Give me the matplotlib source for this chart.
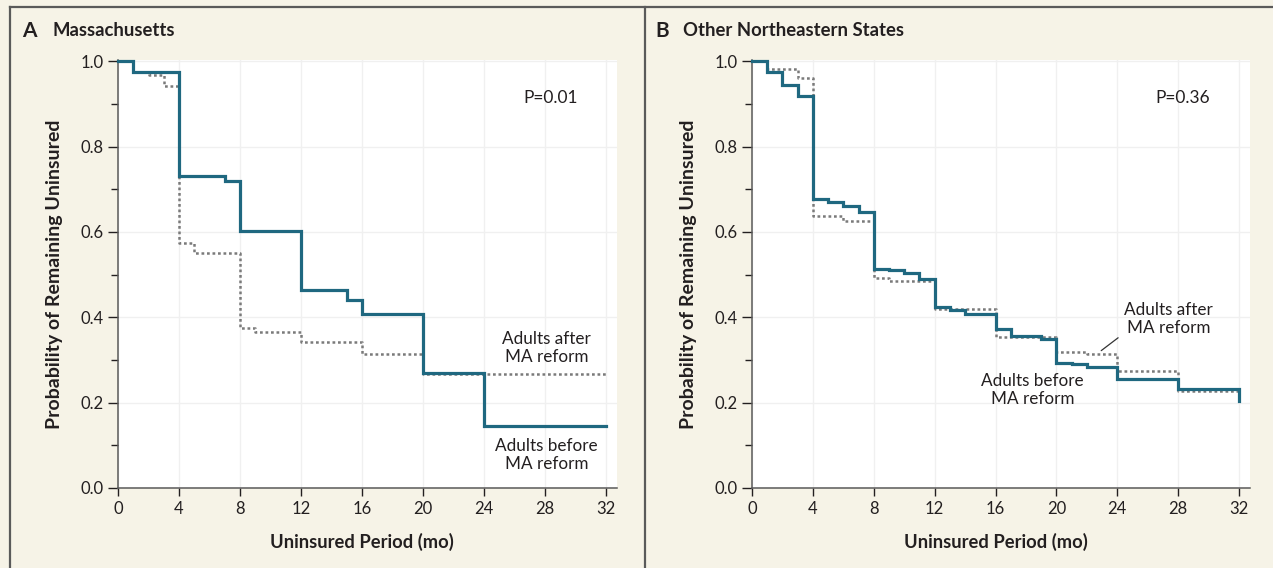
import matplotlib
matplotlib.use("Agg")
import matplotlib.pyplot as plt
from matplotlib.lines import Line2D
from matplotlib.ticker import MultipleLocator

plt.rcParams['font.family'] = ['Lato', 'DejaVu Sans']

# ---------------- data ----------------
panel_titles = ["Massachusetts", "Other Northeastern States"]
panel_letters = ["A", "B"]
p_values = ["P=0.01", "P=0.36"]

# Panel A (Massachusetts)
a_before_t = [0, 1, 4, 7, 8, 12, 15, 16, 20, 24, 32]
a_before_s = [1.0, 0.976, 0.731, 0.720, 0.603, 0.464, 0.440, 0.408, 0.269, 0.145, 0.145]
a_after_t = [0, 1, 2, 3, 4, 5, 8, 9, 12, 16, 20, 32]
a_after_s = [1.0, 0.976, 0.967, 0.942, 0.575, 0.550, 0.375, 0.365, 0.341, 0.314, 0.268, 0.268]

# Panel B (Other Northeastern States)
b_before_t = [0, 1, 2, 3, 4, 5, 6, 7, 8, 9, 10, 11, 12, 13, 14, 16, 17, 19, 20, 21, 22, 24, 28, 32]
b_before_s = [1.0, 0.976, 0.945, 0.919, 0.678, 0.670, 0.661, 0.646, 0.514, 0.511, 0.505, 0.489,
              0.423, 0.417, 0.407, 0.372, 0.357, 0.349, 0.294, 0.290, 0.283, 0.255, 0.231, 0.204]
b_after_t = [0, 1, 3, 4, 6, 8, 9, 12, 16, 20, 22, 24, 28, 32]
b_after_s = [1.0, 0.982, 0.961, 0.637, 0.626, 0.493, 0.486, 0.420, 0.353, 0.318, 0.314, 0.275, 0.228, 0.210]

x_ticks = [0, 4, 8, 12, 16, 20, 24, 28, 32]
y_ticks = [0.0, 0.2, 0.4, 0.6, 0.8, 1.0]
x_label = "Uninsured Period (mo)"
y_label = "Probability of Remaining Uninsured"

# ---------------- style ----------------
BG = '#f6f3e7'
TEAL = '#1f6880'
GRAY = '#7a7a7a'
TXT = '#231f20'
FRAME = '#5a5a5a'

fig = plt.figure(figsize=(12.73, 5.68), dpi=100, facecolor=BG)
W, H = 1273, 568

def px_axes(x0, x1, ytop, ybot):
    return [x0 / W, 1 - ybot / H, (x1 - x0) / W, (ybot - ytop) / H]

axes = [fig.add_axes(px_axes(118, 617, 60, 488)),
        fig.add_axes(px_axes(752, 1250, 60, 488))]

data = [(a_before_t, a_before_s, a_after_t, a_after_s),
        (b_before_t, b_before_s, b_after_t, b_after_s)]

for ax, (bt, bs, at, as_) in zip(axes, data):
    ax.set_facecolor('white')
    ax.set_xlim(0, 32.72)
    ax.set_ylim(0, 1.003)
    ax.set_xticks(x_ticks)
    ax.set_yticks(y_ticks)
    ax.set_yticklabels([f"{v:.1f}" for v in y_ticks])
    ax.yaxis.set_minor_locator(MultipleLocator(0.1))
    ax.grid(True, which='major', color='#f0f0f0', lw=1.0)
    ax.set_axisbelow(True)
    for s in ['top', 'right']:
        ax.spines[s].set_visible(False)
    for s in ['left', 'bottom']:
        ax.spines[s].set_color(FRAME)
        ax.spines[s].set_linewidth(1.1)
    ax.tick_params(axis='y', which='major', length=7, width=1.0, color=TXT, pad=3,
                   labelsize=12, labelcolor=TXT)
    ax.tick_params(axis='y', which='minor', length=5, width=1.0, color=TXT)
    ax.tick_params(axis='x', which='major', length=6, width=1.0, color=TXT, pad=3,
                   labelsize=12, labelcolor=TXT)
    ax.plot(at, as_, drawstyle='steps-post', color=GRAY, lw=1.8,
            linestyle=(0, (1.1, 1.1)), zorder=3, clip_on=False)
    ax.plot(bt, bs, drawstyle='steps-post', color=TEAL, lw=2.3, zorder=4,
            solid_joinstyle='miter', clip_on=False)
    ax.set_xlabel(x_label, fontsize=13.2, fontweight='bold', color=TXT)
    ax.set_ylabel(y_label, fontsize=14, fontweight='bold', color=TXT)
    ax.xaxis.set_label_coords(16 / 32.72, -0.105)
    ax.yaxis.set_label_coords(-0.110, 0.5)

axA, axB = axes
axA.text(28.4, 0.915, p_values[0], fontsize=12.5, color=TXT, ha='center', va='center')
axB.text(28.3, 0.915, p_values[1], fontsize=12.5, color=TXT, ha='center', va='center')

axA.text(28.1, 0.328, "Adults after\nMA reform", fontsize=12.3, color=TXT,
         ha='center', va='center', linespacing=1.15)
axA.text(28.1, 0.078, "Adults before\nMA reform", fontsize=12.3, color=TXT,
         ha='center', va='center', linespacing=1.15)
axB.text(27.35, 0.397, "Adults after\nMA reform", fontsize=12.3, color=TXT,
         ha='center', va='center', linespacing=1.15)
axB.text(18.45, 0.229, "Adults before\nMA reform", fontsize=12.3, color=TXT,
         ha='center', va='center', linespacing=1.15)
axB.annotate('', xy=(22.8, 0.318), xytext=(24.2, 0.356),
             arrowprops=dict(arrowstyle='-', color='#333333', lw=0.9))

# panel titles
fig.text(22 / W, 1 - 31 / H, panel_letters[0], fontsize=15, fontweight='bold', color=TXT, va='center')
fig.text(53 / W, 1 - 31 / H, panel_titles[0], fontsize=13.3, fontweight='bold', color=TXT, va='center')
fig.text(655 / W, 1 - 31 / H, panel_letters[1], fontsize=15, fontweight='bold', color=TXT, va='center')
fig.text(683 / W, 1 - 31 / H, panel_titles[1], fontsize=13.3, fontweight='bold', color=TXT, va='center')

# frame lines
fig.add_artist(Line2D([10 / W, 1.0], [1 - 7 / H, 1 - 7 / H], color=FRAME, lw=1.6))
fig.add_artist(Line2D([10 / W, 10 / W], [0, 1 - 7 / H], color=FRAME, lw=1.6))
fig.add_artist(Line2D([645 / W, 645 / W], [0, 1 - 7 / H], color=FRAME, lw=1.6))

fig.savefig("out.png", dpi=100, facecolor=BG)
